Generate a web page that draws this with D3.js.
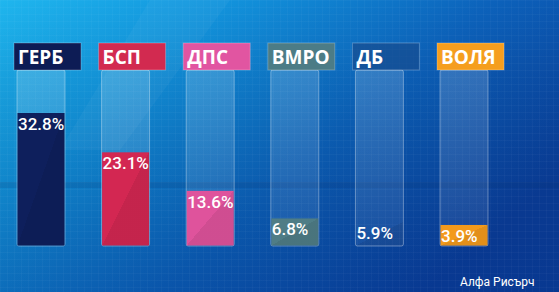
<!DOCTYPE html>
<html>
<head>
<meta charset="utf-8">
<script src="https://d3js.org/d3.v7.min.js"></script>
<style>
  html, body { margin: 0; padding: 0; overflow: hidden; }
  body { width: 559px; height: 292px; }
  .party { font-family: 'Open Sans', sans-serif; font-weight: 700; font-size: 19px; fill: #fff; }
  .value { font-family: 'Roboto', sans-serif; font-weight: 500; font-size: 17px; fill: #fff; }
  .source { font-family: 'Roboto', sans-serif; font-size: 12px; fill: #fff; }
</style>
</head>
<body>
<div id="chart"></div>
<script>
// data
const parties = ["ГЕРБ", "БСП", "ДПС", "ВМРО", "ДБ", "ВОЛЯ"];
const shares = [32.8, 23.1, 13.6, 6.8, 5.9, 3.9];
const barColors = ["#0e1f5c", "#d32752", "#df539c", "#4f7d86", "#164a92", "#f39a1c"];
const labelColors = ["#0d1c55", "#d22a50", "#e155a1", "#4c7c86", "#174b8e", "#f59e1e"];
const source = "Алфа Рисърч";

const W = 559, H = 292;
const svg = d3.select("#chart").append("svg")
    .attr("width", W).attr("height", H);

const defs = svg.append("defs");

// background gradient
const bg = defs.append("linearGradient").attr("id", "bg")
    .attr("x1", 0).attr("y1", 0).attr("x2", 1).attr("y2", 0.6);
bg.append("stop").attr("offset", "0%").attr("stop-color", "#1fb6ee");
bg.append("stop").attr("offset", "30%").attr("stop-color", "#1293dc");
bg.append("stop").attr("offset", "65%").attr("stop-color", "#0c62bb");
bg.append("stop").attr("offset", "100%").attr("stop-color", "#0a3f9c");

const vign = defs.append("linearGradient").attr("id", "vign")
    .attr("x1", 0).attr("y1", 0).attr("x2", 0).attr("y2", 1);
vign.append("stop").attr("offset", "0%").attr("stop-color", "#000").attr("stop-opacity", 0);
vign.append("stop").attr("offset", "100%").attr("stop-color", "#001a60").attr("stop-opacity", 0.18);

// faint grid
const pat = defs.append("pattern").attr("id", "grid")
    .attr("width", 7).attr("height", 7).attr("patternUnits", "userSpaceOnUse");
pat.append("path").attr("d", "M7 0 L0 0 L0 7")
    .attr("fill", "none").attr("stroke", "#ffffff").attr("stroke-opacity", 0.05);

// diagonal shade inside bars
const shade = defs.append("linearGradient").attr("id", "shade")
    .attr("x1", 0).attr("y1", 0).attr("x2", 1).attr("y2", 1);
shade.append("stop").attr("offset", "50%").attr("stop-color", "#000").attr("stop-opacity", 0);
shade.append("stop").attr("offset", "50%").attr("stop-color", "#000").attr("stop-opacity", 0.07);

const trackGrad = defs.append("linearGradient").attr("id", "track")
    .attr("x1", 0).attr("y1", 0).attr("x2", 0).attr("y2", 1);
trackGrad.append("stop").attr("offset", "0%").attr("stop-color", "#ffffff").attr("stop-opacity", 0.16);
trackGrad.append("stop").attr("offset", "100%").attr("stop-color", "#ffffff").attr("stop-opacity", 0.06);

svg.append("rect").attr("width", W).attr("height", H).attr("fill", "url(#bg)");
svg.append("rect").attr("width", W).attr("height", H).attr("fill", "url(#vign)");
svg.append("rect").attr("width", W).attr("height", H).attr("fill", "url(#grid)");
// light diagonal streak
svg.append("path").attr("d", "M150 0 L230 0 L120 150 L60 150 Z")
    .attr("fill", "#ffffff").attr("opacity", 0.04);
// horizontal stage band
svg.append("rect").attr("x", 0).attr("y", 182).attr("width", W).attr("height", 6)
    .attr("fill", "#05306e").attr("opacity", 0.15);

// scales
const trackTop = 70, trackBottom = 246;
const x = d3.scaleBand().domain(parties).range([17, 488])
    .paddingInner(0.433).paddingOuter(0);
const y = d3.scaleLinear().domain([0, 32.8]).range([trackBottom, 113]);
const bw = x.bandwidth();

const g = svg.selectAll("g.party-col").data(parties).enter()
    .append("g").attr("class", "party-col");

// empty track
g.append("rect")
    .attr("x", d => x(d)).attr("y", trackTop)
    .attr("width", bw).attr("height", trackBottom - trackTop)
    .attr("rx", 2)
    .attr("fill", "url(#track)")
    .attr("stroke", "#ffffff").attr("stroke-opacity", 0.35).attr("stroke-width", 1);

// filled bar (small bars get room for their label)
const barTop = (i) => Math.min(y(shares[i]), trackBottom - 21);
g.append("rect")
    .attr("x", d => x(d) + 0.5)
    .attr("y", (d, i) => barTop(i))
    .attr("width", bw - 1)
    .attr("height", (d, i) => trackBottom - barTop(i) - 0.5)
    .attr("fill", (d, i) => barColors[i])
    .attr("fill-opacity", d => d === "ДБ" ? 0.0 : 1);
g.append("rect")
    .attr("x", d => x(d) + 0.5)
    .attr("y", (d, i) => barTop(i))
    .attr("width", bw - 1)
    .attr("height", (d, i) => trackBottom - barTop(i) - 0.5)
    .attr("fill", "url(#shade)");

// value labels
g.append("text").attr("class", "value")
    .attr("x", d => x(d) + 1)
    .attr("y", (d, i) => barTop(i) + 17)
    .text((d, i) => shares[i].toFixed(1) + "%");

// party label boxes
g.append("rect")
    .attr("x", d => x(d) - 3).attr("y", 43)
    .attr("width", 67).attr("height", 27)
    .attr("fill", (d, i) => labelColors[i])
    .attr("fill-opacity", d => d === "ДБ" ? 0.7 : 1)
    .attr("stroke", "#ffffff").attr("stroke-opacity", 0.25);
g.append("text").attr("class", "party")
    .attr("x", d => x(d) + 1).attr("y", 64)
    .text(d => d);

svg.append("text").attr("class", "source")
    .attr("x", 460).attr("y", 286)
    .text(source);
</script>
</body>
</html>
